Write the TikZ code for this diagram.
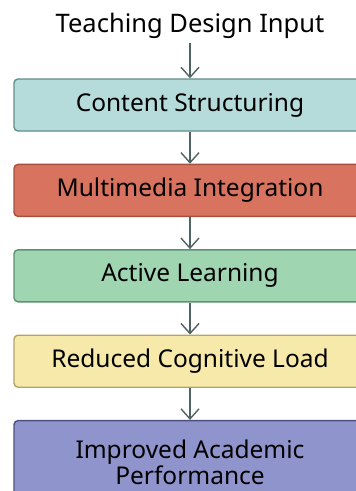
\documentclass[tikz,border=0pt]{standalone}
\usepackage{fontspec}
\setmainfont{Noto Sans}
\usetikzlibrary{arrows.meta,positioning}
\definecolor{flowline}{HTML}{4F6264}
\definecolor{tealfill}{HTML}{B5DCDB}
\definecolor{tealedge}{HTML}{5E8E8E}
\definecolor{redfill}{HTML}{D8735F}
\definecolor{rededge}{HTML}{A4503F}
\definecolor{greenfill}{HTML}{A0D5B2}
\definecolor{greenedge}{HTML}{5C9272}
\definecolor{yellowfill}{HTML}{F6E9A9}
\definecolor{yellowedge}{HTML}{B3A364}
\definecolor{bluefill}{HTML}{9094CC}
\definecolor{blueedge}{HTML}{4C5080}

\begin{document}
\begin{tikzpicture}[x=1pt,y=1pt,
    stage/.style={rounded corners=4pt,line width=1.4pt,minimum width=352pt,
      minimum height=52pt,inner sep=0pt,font=\fontsize{24.5}{29}\selectfont,
      text=black,align=center},
    flow/.style={flowline,line width=1.4pt,-{Straight Barb[length=10pt,width=18pt,line width=1.4pt]}},
    node distance=32pt]
  \useasboundingbox (0,0) rectangle (356,-491);

  \node[font=\fontsize{25.5}{30}\selectfont,inner sep=4pt] (input) at (190,-26) {Teaching Design Input};
  \node[stage,fill=tealfill,draw=tealedge] (content) at (190,-105) {Content Structuring};
  \node[stage,fill=redfill,draw=rededge,below=of content] (media) {Multimedia Integration};
  \node[stage,fill=greenfill,draw=greenedge,below=of media] (active) {Active Learning};
  \node[stage,fill=yellowfill,draw=yellowedge,below=of active] (load) {Reduced Cognitive Load};
  \node[stage,fill=bluefill,draw=blueedge,below=of load,minimum height=84pt,
    text depth=0pt] (perf) {Improved Academic\\[-3pt]Performance};

  \draw[flow] (input) -- (content);
  \foreach \a/\b in {content/media,media/active,active/load,load/perf}
    \draw[flow] (\a.south) -- (\b.north);
\end{tikzpicture}
\end{document}
